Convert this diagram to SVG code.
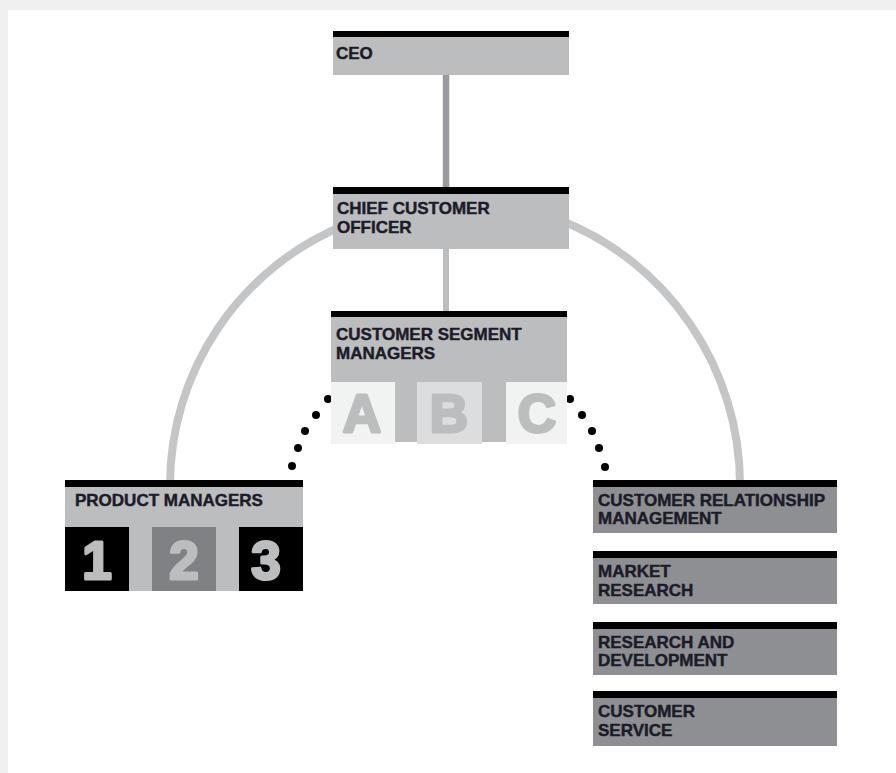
<svg xmlns="http://www.w3.org/2000/svg" width="896" height="773" viewBox="0 0 896 773">
<style>
.bar{fill:#000}
.lg{fill:#bcbdbf}
.dg{fill:#8e8f93}
.t{font-family:"Liberation Sans",Arial,sans-serif;font-weight:bold;font-size:17px;fill:#1c1c28;stroke:#1c1c28;stroke-width:0.45}
.big{font-family:"Liberation Sans",Arial,sans-serif;font-weight:bold;font-size:53px;fill:#bcbdbf;stroke:#bcbdbf;stroke-width:3;stroke-linejoin:round;text-anchor:middle}
.dot{fill:#000}
</style>
<rect x="0" y="0" width="896" height="773" fill="#f0f0f0"/>
<rect x="8" y="10" width="888" height="763" fill="#ffffff"/>
<g id="connectors">
  <line x1="446" y1="74" x2="446" y2="188" stroke="#9b9b9f" stroke-width="6.5"/>
  <line x1="446" y1="248" x2="446" y2="312" stroke="#bcbdbf" stroke-width="6"/>
  <path d="M170,484 A281,281 0 0 1 345,225" fill="none" stroke="#c4c5c7" stroke-width="8"/>
  <path d="M560,220 A285,285 0 0 1 740,484" fill="none" stroke="#c4c5c7" stroke-width="8"/>
  <g id="dots-left">
    <circle class="dot" cx="328" cy="399" r="4"/>
    <circle class="dot" cx="316" cy="415" r="4"/>
    <circle class="dot" cx="305" cy="431" r="4"/>
    <circle class="dot" cx="298" cy="448" r="4"/>
    <circle class="dot" cx="292" cy="466" r="4"/>
  </g>
  <g id="dots-right">
    <circle class="dot" cx="570" cy="399" r="4"/>
    <circle class="dot" cx="582" cy="415" r="4"/>
    <circle class="dot" cx="592" cy="431" r="4"/>
    <circle class="dot" cx="599" cy="448" r="4"/>
    <circle class="dot" cx="605" cy="467" r="4"/>
  </g>
</g>
<g id="ceo">
  <rect class="lg" x="333" y="31" width="236" height="44"/>
  <rect class="bar" x="333" y="31" width="236" height="6"/>
  <text class="t" x="336" y="59">CEO</text>
</g>
<g id="cco">
  <rect class="lg" x="333" y="187" width="236" height="62"/>
  <rect class="bar" x="333" y="187" width="236" height="7"/>
  <text class="t" x="337" y="214">CHIEF CUSTOMER</text>
  <text class="t" x="337" y="233">OFFICER</text>
</g>
<g id="csm">
  <rect class="lg" x="331" y="311" width="236" height="131"/>
  <rect class="bar" x="331" y="311" width="236" height="6"/>
  <text class="t" x="336" y="340">CUSTOMER SEGMENT</text>
  <text class="t" x="336" y="359">MANAGERS</text>
  <rect x="331" y="382" width="64" height="62" fill="#f1f2f2"/>
  <rect x="417" y="382" width="65" height="62" fill="#dcdddf"/>
  <rect x="506" y="382" width="61" height="62" fill="#f1f2f2"/>
  <text class="big" x="362" y="432">A</text>
  <text class="big" x="449" y="432">B</text>
  <text class="big" x="537" y="432">C</text>
</g>
<g id="pm">
  <rect class="lg" x="65" y="480" width="238" height="111"/>
  <rect class="bar" x="65" y="480" width="238" height="7"/>
  <text class="t" x="75" y="506">PRODUCT MANAGERS</text>
  <rect x="65" y="527" width="64" height="64" fill="#000"/>
  <rect x="152" y="527" width="64" height="64" fill="#808184"/>
  <rect x="239" y="527" width="64" height="64" fill="#000"/>
  <text class="big" x="97" y="579">1</text>
  <text class="big" x="184" y="579">2</text>
  <text class="big" x="266" y="579">3</text>
</g>
<g id="crm">
  <rect class="dg" x="593" y="480" width="244" height="53"/>
  <rect class="bar" x="593" y="480" width="244" height="7"/>
  <text class="t" x="598" y="506">CUSTOMER RELATIONSHIP</text>
  <text class="t" x="598" y="524">MANAGEMENT</text>
</g>
<g id="market-research">
  <rect class="dg" x="593" y="551" width="244" height="53"/>
  <rect class="bar" x="593" y="551" width="244" height="7"/>
  <text class="t" x="598" y="577">MARKET</text>
  <text class="t" x="598" y="596">RESEARCH</text>
</g>
<g id="rnd">
  <rect class="dg" x="593" y="622" width="244" height="53"/>
  <rect class="bar" x="593" y="622" width="244" height="7"/>
  <text class="t" x="598" y="648">RESEARCH AND</text>
  <text class="t" x="598" y="666">DEVELOPMENT</text>
</g>
<g id="customer-service">
  <rect class="dg" x="593" y="691" width="244" height="55"/>
  <rect class="bar" x="593" y="691" width="244" height="7"/>
  <text class="t" x="598" y="717">CUSTOMER</text>
  <text class="t" x="598" y="736">SERVICE</text>
</g>
</svg>
